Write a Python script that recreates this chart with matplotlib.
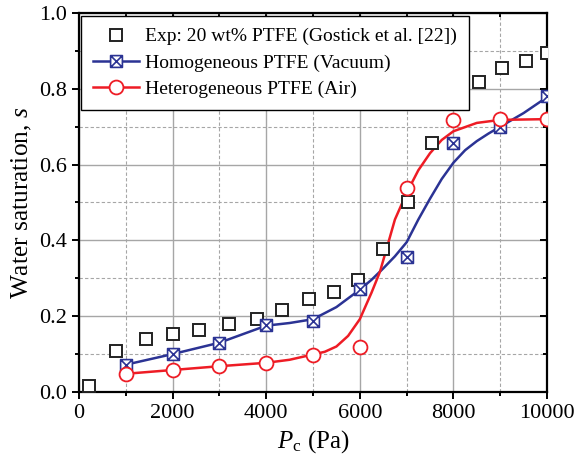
import matplotlib
matplotlib.use("Agg")
import matplotlib.pyplot as plt
from matplotlib.lines import Line2D
from matplotlib.path import Path
from matplotlib.ticker import MultipleLocator, FormatStrFormatter

plt.rcParams['font.family'] = ['Liberation Serif', 'DejaVu Serif']
plt.rcParams['mathtext.fontset'] = 'custom'
plt.rcParams['mathtext.rm'] = 'Liberation Serif'
plt.rcParams['mathtext.it'] = 'Liberation Serif:italic'

# Experimental data (Gostick et al.)
exp_p = [214, 790, 1430, 2010, 2560, 3200, 3800, 4340, 4910, 5450, 5960,
         6490, 7030, 7540, 8550, 9040, 9550, 10000]
exp_s = [0.016, 0.108, 0.140, 0.153, 0.164, 0.179, 0.193, 0.216, 0.245, 0.264,
         0.296, 0.377, 0.501, 0.656, 0.818, 0.855, 0.873, 0.894]

# simulated points
sim_p = [1000, 2000, 3000, 4000, 5000, 6000, 7000, 8000, 9000, 10000]
homo_s = [0.072, 0.100, 0.130, 0.178, 0.188, 0.271, 0.357, 0.656, 0.700, 0.780]
hetero_s = [0.048, 0.058, 0.068, 0.077, 0.098, 0.119, 0.538, 0.717, 0.720, 0.720]

# fitted curves
homo_fit_p = [1000, 2000, 3000, 4000, 4500, 5000, 5500, 6000, 6250, 6500, 6750,
              7000, 7250, 7500, 7750, 8000, 8250, 8500, 8750, 9000, 9500, 10000]
homo_fit_s = [0.072, 0.100, 0.130, 0.175, 0.182, 0.192, 0.224, 0.270, 0.296,
              0.326, 0.358, 0.395, 0.455, 0.510, 0.562, 0.605, 0.638, 0.662,
              0.682, 0.700, 0.736, 0.778]
hetero_fit_p = [1000, 2000, 3000, 4000, 4500, 5000, 5250, 5500, 5750, 6000, 6250,
                6430, 6600, 6750, 7000, 7250, 7500, 7750, 8000, 8500, 9000, 10000]
hetero_fit_s = [0.048, 0.058, 0.068, 0.077, 0.085, 0.099, 0.106, 0.120, 0.148,
                0.192, 0.262, 0.317, 0.390, 0.455, 0.525, 0.585, 0.630, 0.665,
                0.688, 0.710, 0.718, 0.720]

blue = '#2b3394'
red = '#ee1c25'

box_x = Path([(-1, -1), (1, -1), (1, 1), (-1, 1), (-1, -1),
              (-1, -1), (1, 1), (-1, 1), (1, -1)],
             [Path.MOVETO, Path.LINETO, Path.LINETO, Path.LINETO, Path.CLOSEPOLY,
              Path.MOVETO, Path.LINETO, Path.MOVETO, Path.LINETO])

fig = plt.figure(figsize=(5.74, 4.70), dpi=100)
ax = fig.add_axes([0.1376, 0.166, 0.8154, 0.8063])

ax.plot(homo_fit_p, homo_fit_s, color=blue, lw=1.8, zorder=3)
ax.plot(hetero_fit_p, hetero_fit_s, color=red, lw=1.8, zorder=3)
ax.plot(exp_p, exp_s, ls='none', marker='s', ms=8.5, mfc='white', mec='#222222',
        mew=1.4, zorder=4)
ax.plot(sim_p, homo_s, ls='none', marker=box_x, ms=8.5, mfc='white', mec=blue,
        mew=1.2, zorder=5)
ax.plot(sim_p, hetero_s, ls='none', marker='o', ms=10, mfc='white', mec=red,
        mew=1.3, zorder=5)

ax.set_xlim(0, 10000)
ax.set_ylim(0, 1.0)
ax.xaxis.set_major_locator(MultipleLocator(2000))
ax.xaxis.set_minor_locator(MultipleLocator(1000))
ax.yaxis.set_major_locator(MultipleLocator(0.2))
ax.yaxis.set_minor_locator(MultipleLocator(0.1))
ax.yaxis.set_major_formatter(FormatStrFormatter('%.1f'))

ax.grid(which='major', color='#a6a6a6', lw=1.0, ls='-')
ax.grid(which='minor', color='#a6a6a6', lw=0.8, ls=(0, (3, 2)))
ax.set_axisbelow(True)

for sp in ax.spines.values():
    sp.set_linewidth(1.6)
ax.tick_params(which='both', direction='out', labelsize=16, width=1.4)
ax.tick_params(which='major', length=5)
ax.tick_params(which='minor', length=3)
ax.tick_params(which='both', top=True, right=True)
# top / right ticks point inward
for t in ax.xaxis.get_ticklines(minor=False)[1::2] + ax.xaxis.get_ticklines(minor=True)[1::2]:
    t.set_marker(3)
for t in ax.yaxis.get_ticklines(minor=False)[1::2] + ax.yaxis.get_ticklines(minor=True)[1::2]:
    t.set_marker(0)

ax.set_xlabel('$P_{\\mathrm{c}}$ (Pa)', fontsize=18, labelpad=4)
ax.set_ylabel('Water saturation, $s$', fontsize=18.3, labelpad=4)

handles = [
    Line2D([], [], ls='none', marker='s', ms=8.5, mfc='white', mec='#222222', mew=1.4),
    Line2D([], [], color=blue, lw=1.8, marker=box_x, ms=8.5, mfc='white', mec=blue, mew=1.2),
    Line2D([], [], color=red, lw=1.8, marker='o', ms=10, mfc='white', mec=red, mew=1.3),
]
labels = ['Exp: 20 wt% PTFE (Gostick et al. [22])',
          'Homogeneous PTFE (Vacuum)',
          'Heterogeneous PTFE (Air)']
leg = ax.legend(handles, labels, loc='upper left', bbox_to_anchor=(0.004, 0.992),
                borderaxespad=0, fontsize=14, fancybox=False, framealpha=1,
                edgecolor='black', handlelength=2.4, handletextpad=0.3,
                labelspacing=0.45, borderpad=0.6, numpoints=1)
leg.get_frame().set_linewidth(1.0)
leg.set_zorder(10)

fig.savefig('out.png', dpi=100)
